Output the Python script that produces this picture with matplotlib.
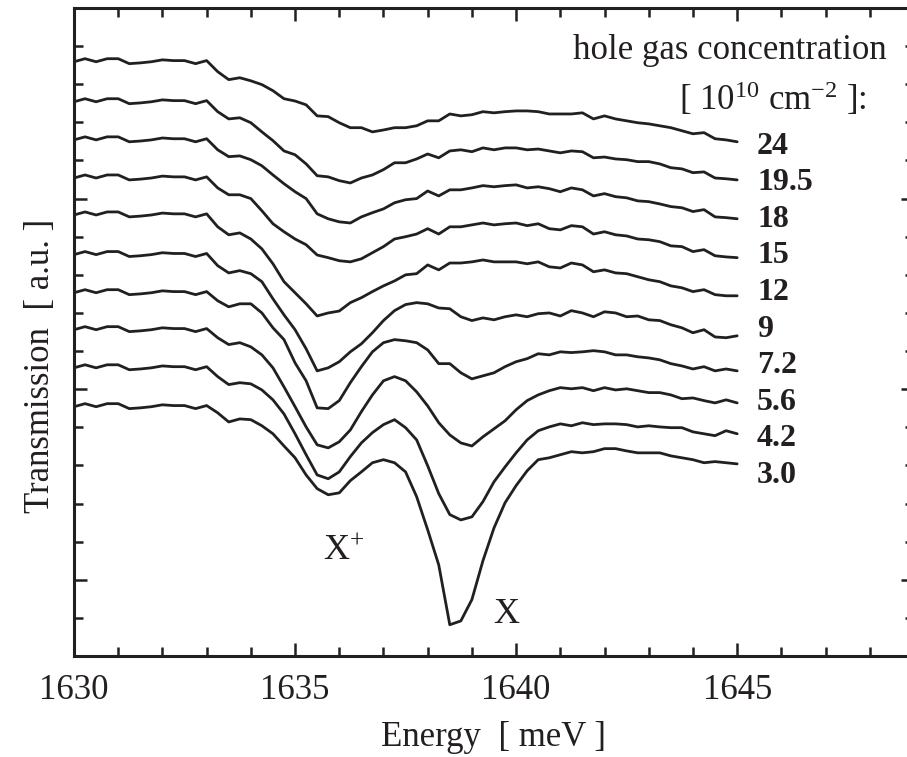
import matplotlib
matplotlib.use("Agg")
import numpy as np
import matplotlib.pyplot as plt
from matplotlib.ticker import MultipleLocator

plt.rcParams['font.family'] = ['Liberation Serif', 'DejaVu Serif']
plt.rcParams['mathtext.fontset'] = 'custom'
plt.rcParams['mathtext.rm'] = 'Liberation Serif'
plt.rcParams['mathtext.it'] = 'Liberation Serif:italic'
plt.rcParams['mathtext.bf'] = 'Liberation Serif:bold'

# ---------------- data ----------------
energy = np.linspace(1630.0, 1645.0, 61)   # meV, sampling grid

concentrations = ["24", "19.5", "18", "15", "12", "9", "7.2", "5.6", "4.2", "3.0"]

t_24 = [13.59, 13.67, 13.59, 13.67, 13.67, 13.54, 13.56, 13.59, 13.64, 13.62, 13.62, 13.54, 13.62,
        13.33, 13.12, 13.17, 13.09, 12.99, 12.83, 12.62, 12.56, 12.46, 12.17,
        12.15, 11.99, 11.86, 11.86, 11.75, 11.80, 11.86, 11.86, 11.91, 12.04,
        12.04, 12.22, 12.17, 12.20, 12.28, 12.25, 12.28, 12.30, 12.30, 12.28,
        12.22, 12.22, 12.22, 12.25, 12.09, 12.17, 12.09, 12.04, 11.99, 11.96,
        11.91, 11.86, 11.78, 11.70, 11.73, 11.57, 11.54, 11.49]
t_19_5 = [12.54, 12.62, 12.54, 12.62, 12.62, 12.49, 12.51, 12.54, 12.59, 12.57, 12.57, 12.49, 12.57,
          12.28, 12.09, 12.12, 11.99, 11.75, 11.52, 11.25, 11.15, 10.91, 10.60,
          10.57, 10.47, 10.41, 10.54, 10.62, 10.76, 10.94, 10.94, 11.04, 11.17,
          11.07, 11.25, 11.28, 11.23, 11.33, 11.28, 11.33, 11.33, 11.28, 11.30,
          11.25, 11.20, 11.25, 11.23, 11.07, 11.09, 11.04, 11.02, 10.97, 10.97,
          10.91, 10.81, 10.78, 10.68, 10.70, 10.54, 10.52, 10.49]
t_18 = [11.54, 11.62, 11.54, 11.62, 11.62, 11.49, 11.51, 11.54, 11.59, 11.57, 11.57, 11.49, 11.57,
        11.28, 11.10, 11.12, 11.02, 10.86, 10.62, 10.39, 10.18, 10.00, 9.60,
        9.47, 9.39, 9.36, 9.52, 9.63, 9.73, 9.89, 9.97, 10.00, 10.20,
        10.07, 10.23, 10.23, 10.28, 10.34, 10.31, 10.34, 10.36, 10.28, 10.31,
        10.26, 10.18, 10.28, 10.23, 10.07, 10.13, 10.05, 10.02, 9.94, 9.92,
        9.86, 9.79, 9.76, 9.66, 9.71, 9.52, 9.50, 9.47]
t_15 = [10.54, 10.62, 10.54, 10.62, 10.62, 10.49, 10.51, 10.54, 10.59, 10.57, 10.57, 10.49, 10.57,
        10.28, 10.10, 10.10, 10.00, 9.68, 9.34, 9.13, 8.94, 8.79, 8.52,
        8.45, 8.37, 8.34, 8.42, 8.58, 8.74, 8.94, 9.00, 9.07, 9.21,
        9.07, 9.26, 9.26, 9.31, 9.36, 9.31, 9.34, 9.36, 9.29, 9.34,
        9.21, 9.18, 9.29, 9.26, 9.07, 9.13, 9.05, 9.02, 8.94, 8.92,
        8.87, 8.76, 8.74, 8.61, 8.66, 8.50, 8.47, 8.45]
t_12 = [9.57, 9.65, 9.57, 9.65, 9.65, 9.52, 9.54, 9.57, 9.62, 9.60, 9.60, 9.52, 9.60,
        9.26, 9.05, 9.10, 8.94, 8.68, 8.29, 7.82, 7.53, 7.24, 6.92,
        7.00, 7.05, 7.27, 7.40, 7.56, 7.71, 7.84, 8.00, 8.03, 8.26,
        8.13, 8.31, 8.31, 8.34, 8.39, 8.34, 8.34, 8.34, 8.29, 8.34,
        8.21, 8.18, 8.31, 8.26, 8.08, 8.13, 8.05, 8.03, 7.95, 7.87,
        7.82, 7.71, 7.66, 7.56, 7.61, 7.48, 7.45, 7.45]
t_9 = [8.53, 8.61, 8.53, 8.61, 8.61, 8.48, 8.50, 8.53, 8.58, 8.56, 8.56, 8.48, 8.56,
       8.24, 8.05, 8.11, 8.03, 7.82, 7.37, 6.95, 6.56, 6.06, 5.48,
       5.56, 5.72, 5.98, 6.19, 6.48, 6.80, 7.06, 7.22, 7.27, 7.24,
       7.13, 7.11, 6.90, 6.80, 6.87, 6.82, 6.90, 6.95, 6.90, 6.98,
       7.00, 6.92, 7.06, 7.00, 6.90, 7.03, 7.00, 6.90, 6.92, 6.82,
       6.80, 6.69, 6.61, 6.48, 6.56, 6.37, 6.35, 6.40]
t_7_2 = [7.53, 7.61, 7.53, 7.61, 7.61, 7.48, 7.50, 7.53, 7.58, 7.56, 7.56, 7.48, 7.56,
         7.32, 7.16, 7.24, 7.24, 7.00, 6.61, 6.30, 5.69, 5.22, 4.51,
         4.49, 4.70, 5.17, 5.59, 5.98, 6.22, 6.30, 6.27, 6.22, 6.03,
         5.67, 5.67, 5.43, 5.27, 5.35, 5.43, 5.59, 5.72, 5.80, 5.93,
         5.90, 5.98, 5.96, 5.98, 6.01, 5.98, 5.90, 5.90, 5.85, 5.82,
         5.77, 5.67, 5.61, 5.53, 5.59, 5.48, 5.53, 5.48]
t_5_6 = [6.56, 6.64, 6.56, 6.64, 6.64, 6.51, 6.53, 6.56, 6.61, 6.59, 6.59, 6.51, 6.59,
         6.35, 6.17, 6.22, 6.11, 5.90, 5.56, 5.06, 4.54, 4.01, 3.54,
         3.46, 3.62, 3.93, 4.41, 4.85, 5.22, 5.33, 5.22, 4.93, 4.56,
         4.12, 3.80, 3.59, 3.51, 3.75, 3.96, 4.17, 4.46, 4.70, 4.85,
         4.96, 5.04, 5.01, 5.04, 4.96, 5.04, 4.98, 5.01, 4.96, 4.91,
         4.91, 4.85, 4.75, 4.77, 4.70, 4.64, 4.72, 4.64]
t_4_2 = [5.56, 5.64, 5.56, 5.64, 5.64, 5.51, 5.53, 5.56, 5.61, 5.59, 5.59, 5.51, 5.59,
         5.33, 5.12, 5.17, 5.14, 4.98, 4.72, 4.35, 3.83, 3.28, 2.75,
         2.65, 2.83, 3.23, 3.59, 3.86, 4.07, 4.20, 3.99, 3.67, 2.99,
         2.26, 1.71, 1.57, 1.65, 2.05, 2.57, 2.96, 3.33, 3.67, 3.91,
         4.01, 4.09, 4.04, 4.12, 4.07, 4.09, 4.09, 4.07, 4.01, 4.04,
         4.01, 3.99, 3.99, 3.88, 3.83, 3.78, 3.91, 3.83]
t_3_0 = [4.54, 4.62, 4.54, 4.62, 4.62, 4.49, 4.51, 4.54, 4.59, 4.57, 4.57, 4.49, 4.57,
         4.38, 4.14, 4.22, 4.20, 4.04, 3.83, 3.51, 3.20, 2.75, 2.39,
         2.23, 2.28, 2.60, 2.83, 3.07, 3.15, 3.07, 2.83, 2.18, 1.31,
         0.39, -1.18, -1.08, -0.52, 0.50, 1.36, 2.02, 2.47, 2.86, 3.15,
         3.20, 3.28, 3.36, 3.33, 3.36, 3.44, 3.44, 3.38, 3.33, 3.33,
         3.33, 3.25, 3.20, 3.15, 3.07, 3.10, 3.07, 3.04]

spectra = [t_24, t_19_5, t_18, t_15, t_12, t_9, t_7_2, t_5_6, t_4_2, t_3_0]

# ---------------- figure ----------------
INK = '#231f20'
W, H = 907, 757
fig = plt.figure(figsize=(W / 100, H / 100), dpi=100)
ax = fig.add_axes([74 / W, 101 / H, 840 / W, 648 / H])

for vals in spectra:
    ax.plot(energy, vals, color=INK, lw=2.0, solid_joinstyle='round', solid_capstyle='round')

ax.set_xlim(1630, 1649)
ax.set_ylim(-2, 15)
ax.xaxis.set_major_locator(MultipleLocator(5))
ax.xaxis.set_minor_locator(MultipleLocator(1))
ax.yaxis.set_major_locator(MultipleLocator(5))
ax.yaxis.set_minor_locator(MultipleLocator(1))
ax.tick_params(which='both', direction='in', top=True, right=True, width=1.8, color=INK)
ax.tick_params(which='major', length=9.4, pad=13, labelsize=25, labelcolor=INK)
ax.tick_params(which='minor', length=6.5)
ax.tick_params(axis='y', labelleft=False)
for s in ax.spines.values():
    s.set_linewidth(2.2)
    s.set_color(INK)

ax.set_xlabel('Energy  [ meV ]', fontsize=25, color=INK)
ax.xaxis.set_label_coords(0.5, -0.100)
ax.set_ylabel('Transmission  [ a.u. ]', fontsize=25, color=INK)
ax.yaxis.set_label_coords(-0.020, 0.4475)

# legend-like header
ax.text(1648.39, 13.67, 'hole gas concentration', fontsize=25, ha='right', va='baseline', color=INK)
ax.text(1647.94, 12.33, r'[ 10$^{10}$ cm$^{-2}$ ]:', fontsize=25, ha='right', va='baseline', color=INK)

# concentration labels
for i, lab in enumerate(concentrations):
    ax.text(1645.45, 11.175 - 0.959 * i, lab, fontsize=23, fontweight='bold',
            ha='left', va='baseline', color=INK)

# peak annotations
ax.text(1635.63, 0.52, r'X$^{+}$', fontsize=26, ha='left', va='baseline', color=INK)
ax.text(1639.48, -1.13, 'X', fontsize=26, ha='left', va='baseline', color=INK)

fig.savefig('out.png', dpi=100)
